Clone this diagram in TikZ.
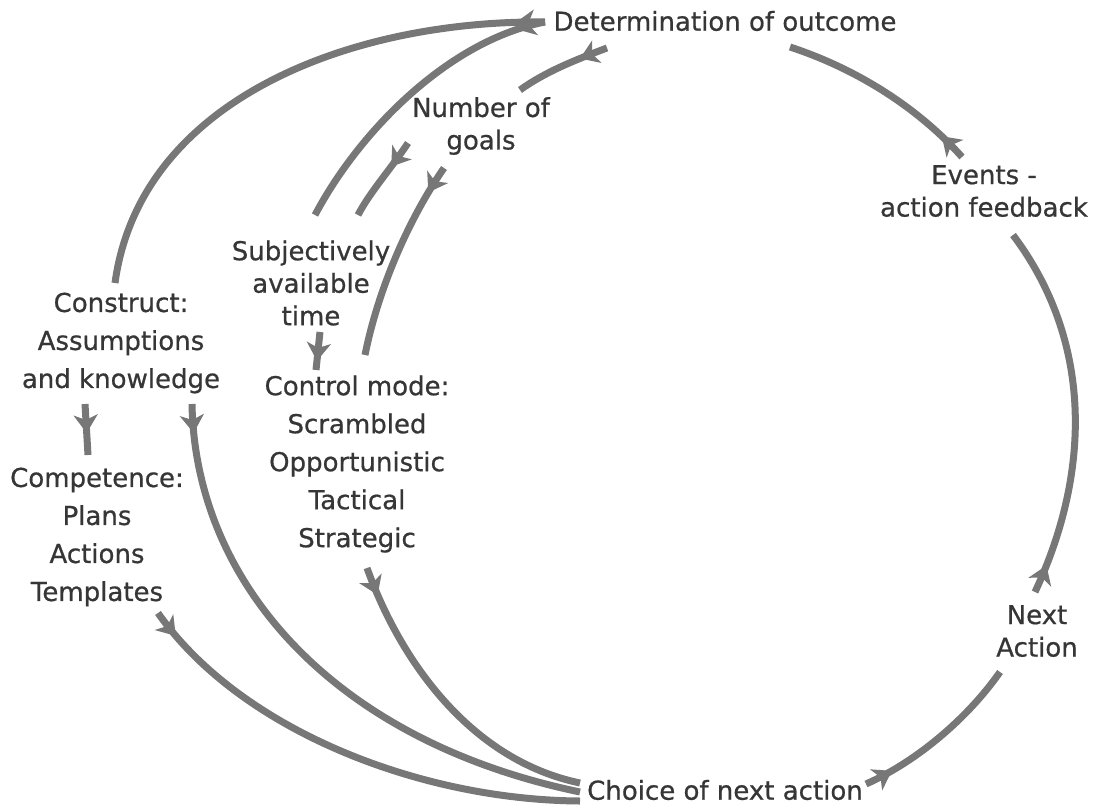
\documentclass[tikz,border=0pt]{standalone}
\usepackage{fontspec}
\setmainfont{DejaVu Sans}
\newfontfamily\lblfont[FakeBold=0.7]{DejaVu Sans}
\usetikzlibrary{arrows.meta,decorations.markings}
\definecolor{lc}{HTML}{777777}
\definecolor{tc}{HTML}{363636}
\begin{document}
\begin{tikzpicture}[x=1pt,y=-1pt,
  lbl/.style={text=tc,align=center,inner sep=0pt,font=\lblfont\fontsize{26}{32.5}\selectfont},
  lblw/.style={lbl,font=\lblfont\fontsize{26}{38}\selectfont},
  flow/.style={color=lc,line width=7pt,postaction={decorate},
    decoration={markings,mark=at position 29pt with {\arrow{Stealth[length=18pt,width=24pt,inset=5pt]}}}}]
\useasboundingbox (0,0) rectangle (1093,809);
% labels
\node[lbl] (det) at (725,21) {Determination of outcome};
\node[lbl] (nog) at (481,126) {Number of\\goals};
\node[lbl] (ev) at (984,191) {Events -\\action feedback};
\node[lbl] (sat) at (311,283) {Subjectively\\available\\time};
\node[lblw] (con) at (121,343) {Construct:\\Assumptions\\and knowledge};
\node[lblw] (cm) at (357,464) {Control mode:\\Scrambled\\Opportunistic\\Tactical\\Strategic};
\node[lblw] (com) at (97,537) {Competence:\\Plans\\Actions\\Templates};
\node[lbl] (na) at (1037,631) {Next\\Action};
\node[lbl] (ch) at (725,790) {Choice of next action};
% connector ends
\coordinate (d1) at (545,22);
\coordinate (d2) at (607,48);
\coordinate (d3) at (790,47);
\coordinate (n1) at (520,90);
\coordinate (n2) at (408,143);
\coordinate (n3) at (444,168);
\coordinate (s1) at (315,215);
\coordinate (s2) at (358,215);
\coordinate (s3) at (320,332);
\coordinate (m1) at (365,355);
\coordinate (m2) at (316,370);
\coordinate (m3) at (367,568);
\coordinate (c1) at (115,283);
\coordinate (c2) at (85,404);
\coordinate (c3) at (192,404);
\coordinate (p1) at (88,455);
\coordinate (p2) at (158,613);
\coordinate (h1) at (580,783);
\coordinate (h2) at (580,792);
\coordinate (h3) at (580,801);
\coordinate (h4) at (866,784);
\coordinate (a1) at (1000,672);
\coordinate (a2) at (1035,592);
\coordinate (e1) at (1013,235);
\coordinate (e2) at (962,157);
% connectors
\draw[flow] (d1) .. controls (350,20) and (140,100) .. (c1);
\draw[flow] (d1) .. controls (450,40) and (360,130) .. (s1);
\draw[flow] (d2) .. controls (575,60) and (545,72) .. (n1);
\draw[flow] (n2) .. controls (390,170) and (370,192) .. (s2);
\draw[flow] (n3) .. controls (408,220) and (378,290) .. (m1);
\draw[flow] (s3) -- (m2);
\draw[flow] (c2) -- (p1);
\draw[flow] (c3) .. controls (195,580) and (330,740) .. (h2);
\draw[flow] (m3) .. controls (400,660) and (470,760) .. (h1);
\draw[flow] (p2) .. controls (240,730) and (420,800) .. (h3);
\draw[flow] (h4) .. controls (920,760) and (970,715) .. (a1);
\draw[flow] (a2) .. controls (1092,470) and (1092,340) .. (e1);
\draw[flow] (e2) .. controls (920,110) and (860,70) .. (d3);
\end{tikzpicture}
\end{document}
